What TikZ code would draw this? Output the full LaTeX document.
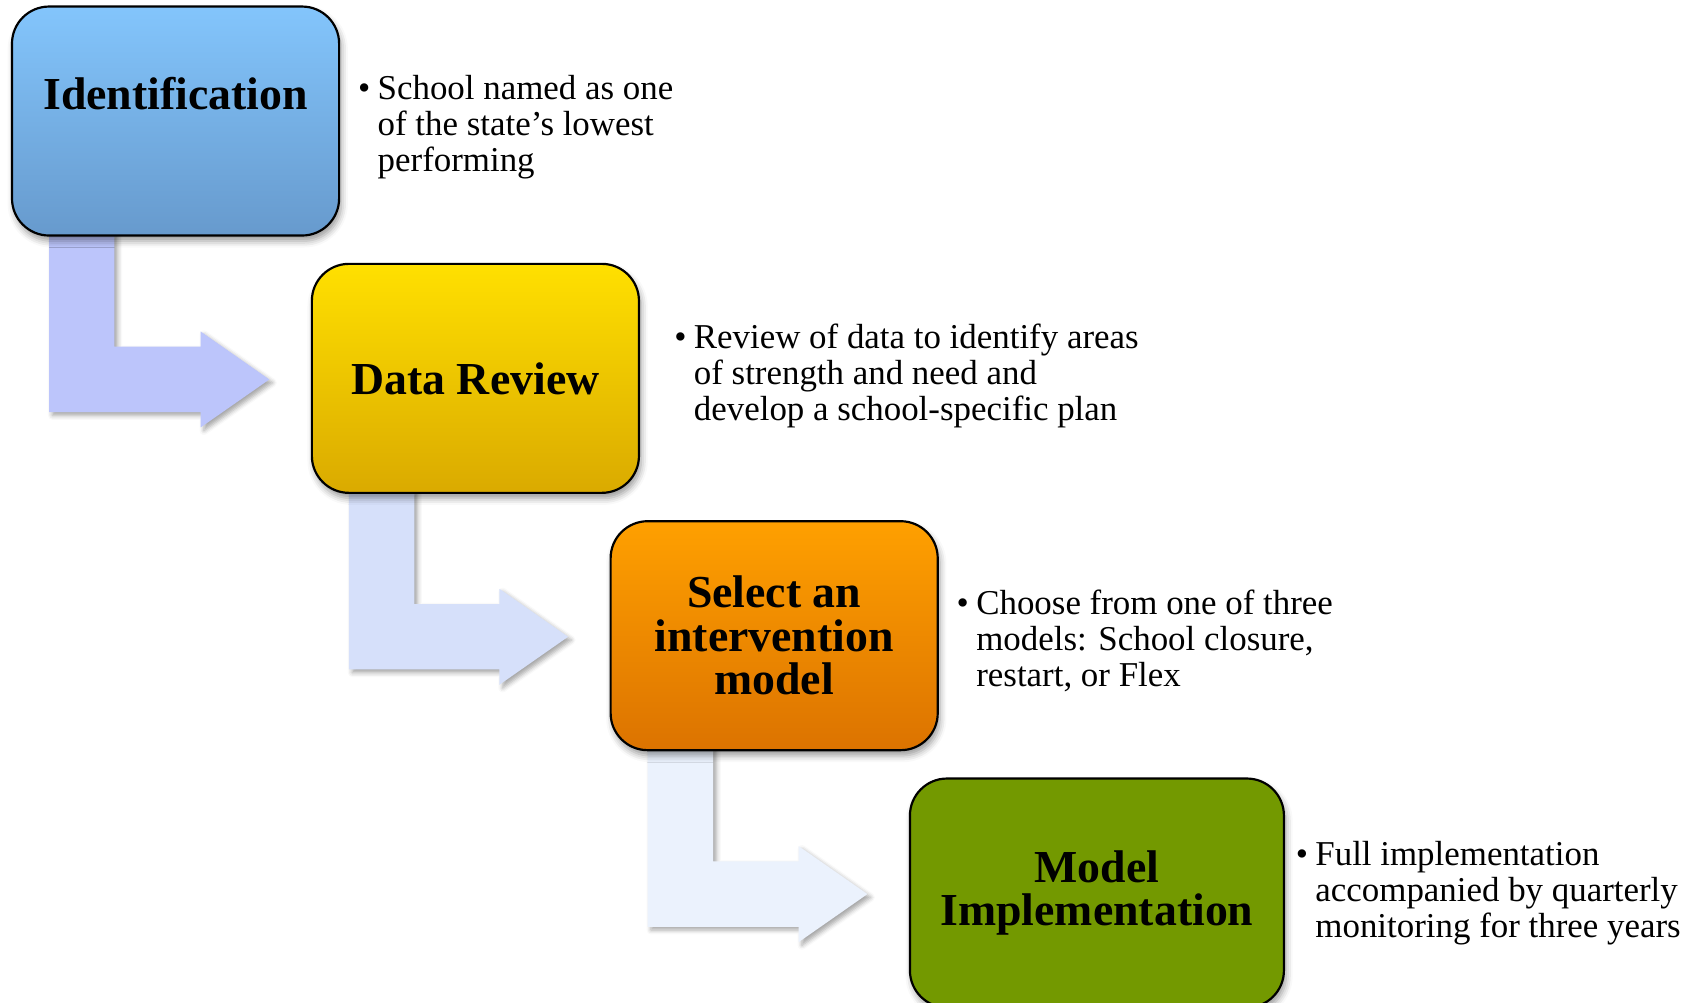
\documentclass[tikz,border=0pt]{standalone}
\usepackage{fontspec}
\setmainfont{Liberation Serif}
\usetikzlibrary{calc,shadows.blur}
\pgfdeclarelayer{background}
\pgfsetlayers{background,main}
\definecolor{arrA}{RGB}{188,197,251}
\definecolor{arrB}{RGB}{214,224,250}
\definecolor{arrC}{RGB}{235,242,253}
\definecolor{blueT}{RGB}{131,197,252}
\definecolor{blueB}{RGB}{103,154,205}
\definecolor{yelT}{RGB}{255,224,0}
\definecolor{yelB}{RGB}{218,170,0}
\definecolor{orT}{RGB}{255,160,0}
\definecolor{orB}{RGB}{220,115,0}
\definecolor{grn}{RGB}{115,153,0}
\newcommand\bentarrow[3]{%
  \path[fill=#3, blur shadow={shadow xshift=1.5pt, shadow yshift=-1.5pt, shadow blur radius=2pt, shadow opacity=35}]
    let \p1=($(#1.south west)+(35,-4)$), \p2=($(#2.west)+(-38,1)$) in
    (\x1,\y1) -- (\x1+30pt,\y1) -- (\x1+30pt,\y2+15pt) -- (\x2-31.5pt,\y2+15pt)
    -- (\x2-31.5pt,\y2+22pt) -- (\x2,\y2) -- (\x2-31.5pt,\y2-22pt)
    -- (\x2-31.5pt,\y2-15pt) -- (\x1,\y2-15pt) -- cycle;}
\begin{document}
\begin{tikzpicture}[x=0.5pt,y=-0.5pt,
  stepbox/.style={draw=black, line width=1pt, rounded corners=17pt,
    minimum width=150pt, minimum height=105pt, inner sep=0pt, align=center,
    font=\fontsize{21}{20}\selectfont\bfseries,
    blur shadow={shadow xshift=1pt, shadow yshift=-2.5pt, shadow blur radius=3pt, shadow opacity=40}},
  title/.style={font=\fontsize{21}{20}\selectfont\bfseries, inner sep=0pt, align=center},
  desc/.style={anchor=base west, inner sep=0pt, font=\fontsize{16}{16.5}\selectfont}]
\useasboundingbox (0,0) rectangle (1560,919);

\node[stepbox, top color=blueT, bottom color=blueB] (b1) at (161,111) {};
\node[title] (t1) at ($(b1.north)+(0,81)$) {Identification};
\node[stepbox, top color=yelT, bottom color=yelB] (b2) at (436,347) {Data Review};
\node[stepbox, top color=orT, bottom color=orB] (b3) at (710,583) {Select an\\intervention\\model};
\node[stepbox, fill=grn, minimum width=171.5pt] (b4) at (1006,819) {Model\\Implementation};

\begin{pgfonlayer}{background}
\bentarrow{b1}{b2}{arrA}
\bentarrow{b2}{b3}{arrB}
\bentarrow{b3}{b4}{arrC}
\end{pgfonlayer}

\node[desc] (d1) at (328,91) {\begin{tabular}[t]{@{}l@{}l@{}}\makebox[9pt][l]{\textbullet}&School named as one\\ &of the state’s lowest\\ &performing\end{tabular}};
\node[desc] (d2) at (618,320) {\begin{tabular}[t]{@{}l@{}l@{}}\makebox[9pt][l]{\textbullet}&Review of data to identify areas\\ &of strength and need and\\ &develop a school-specific plan\end{tabular}};
\node[desc] (d3) at (877,564) {\begin{tabular}[t]{@{}l@{}l@{}}\makebox[9pt][l]{\textbullet}&Choose from one of three\\ &models: School closure,\\ &restart, or Flex\end{tabular}};
\node[desc] (d4) at (1188,794) {\begin{tabular}[t]{@{}l@{}l@{}}\makebox[9pt][l]{\textbullet}&Full implementation\\ &accompanied by quarterly\\ &monitoring for three years\end{tabular}};
\end{tikzpicture}
\end{document}
